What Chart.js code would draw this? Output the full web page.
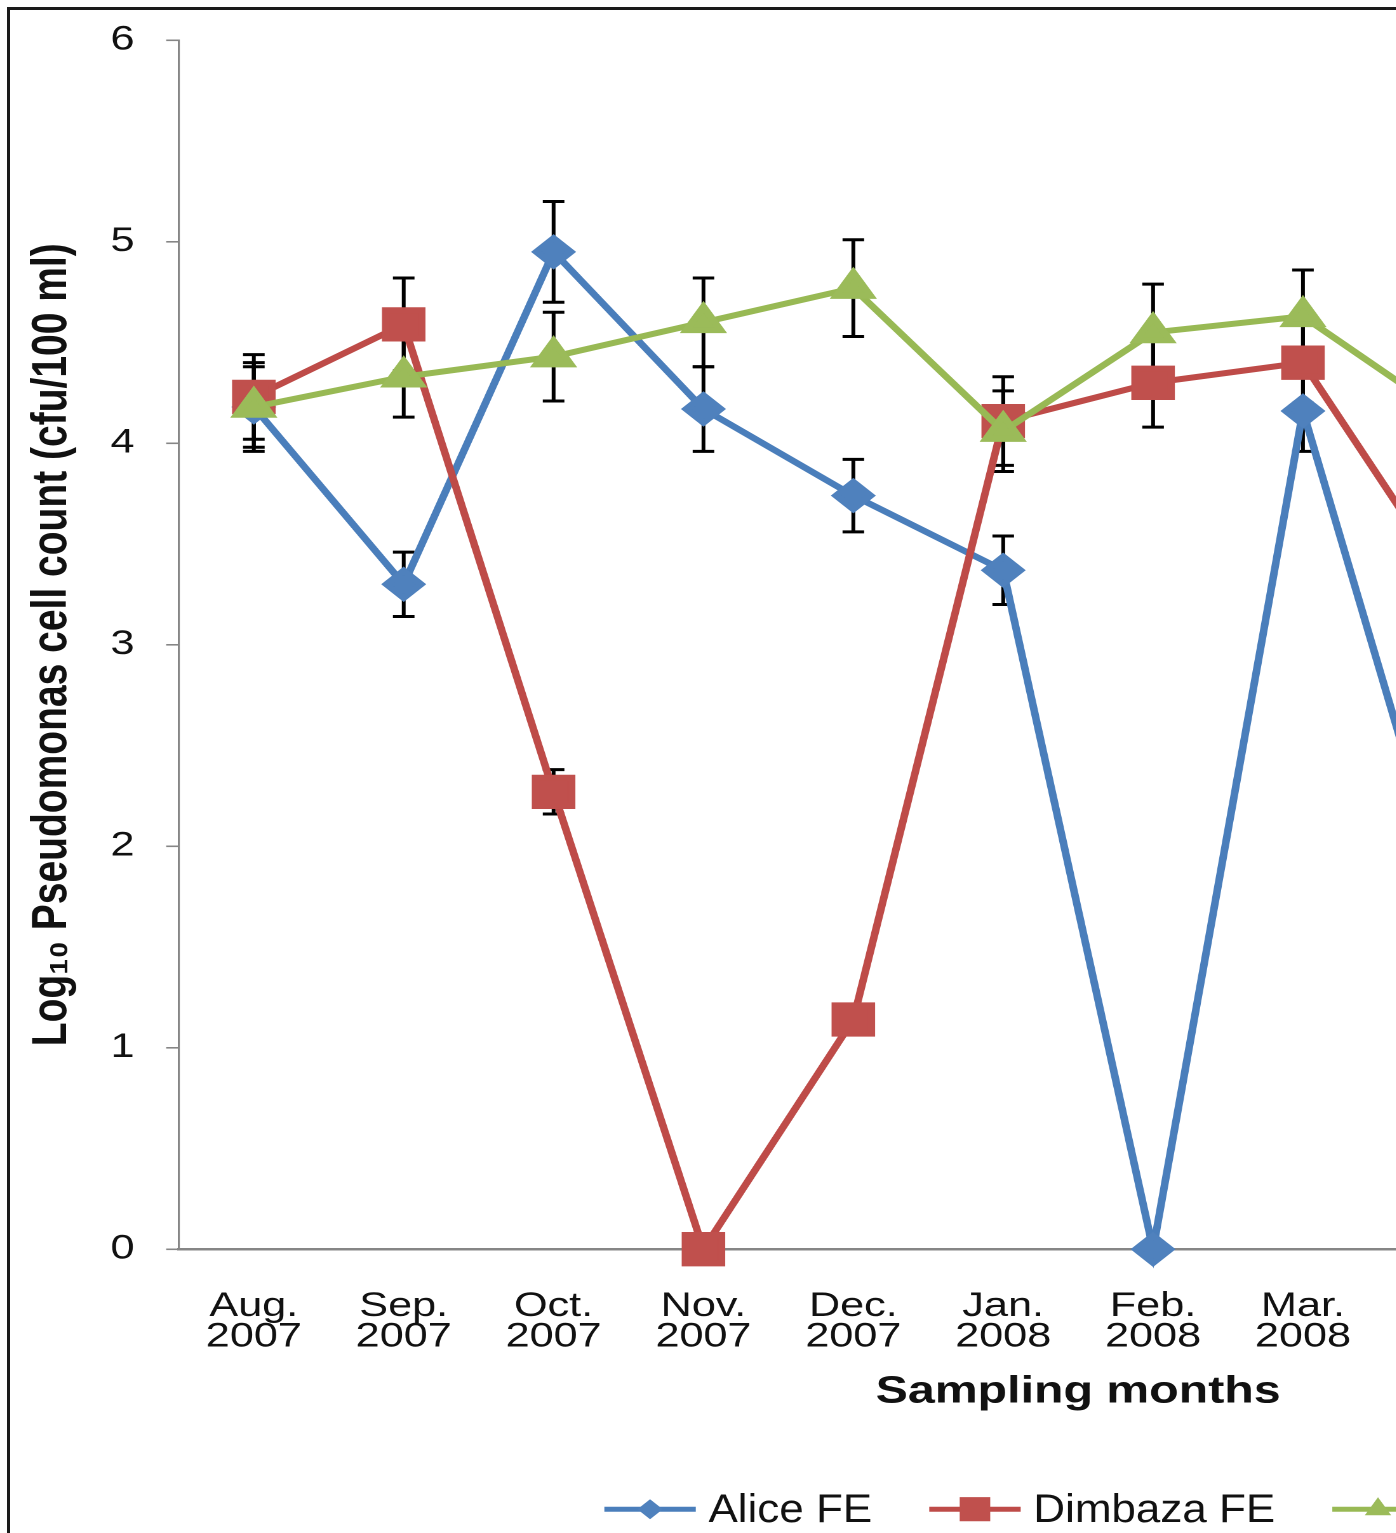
<!DOCTYPE html>
<html>
<head>
<meta charset="utf-8">
<script src="https://cdn.jsdelivr.net/npm/chart.js@4/dist/chart.umd.min.js"></script>
<style>
  html, body { margin: 0; padding: 0; background: #fff; overflow: hidden; width: 1396px; height: 1533px; }
  #wrap { position: absolute; left: 0; top: 0; transform: scaleX(1.27); transform-origin: 0 0; }
  #frame { position: absolute; left: 7px; top: 7px; width: 1600px; height: 1700px; border: 3px solid #1a1a1a; box-sizing: border-box; pointer-events: none; }
</style>
</head>
<body>
<div id="wrap"><canvas id="pseudoChart" width="1590" height="1545"></canvas></div>
<div id="frame"></div>
<script>
// Sampling months (Aug 2007 - Jul 2008)
const months = [
  ["Aug.", "2007"], ["Sep.", "2007"], ["Oct.", "2007"], ["Nov.", "2007"],
  ["Dec.", "2007"], ["Jan.", "2008"], ["Feb.", "2008"], ["Mar.", "2008"],
  ["Apr.", "2008"], ["May", "2008"], ["Jun.", "2008"], ["Jul.", "2008"]
];

// Log10 counts and error bar sizes
const aliceFE = [4.18, 3.30, 4.95, 4.17, 3.74, 3.37, 0, 4.16, 1.65, 3.20, 3.90, 3.60];
const aliceErr = [0.22, 0.16, 0.25, 0.21, 0.18, 0.17, 0, 0.20, 0.18, 0.20, 0.20, 0.20];

const dimbazaFE = [4.23, 4.59, 2.27, 0, 1.14, 4.11, 4.30, 4.40, 3.28, 3.90, 4.20, 4.00];
const dimbazaErr = [0.21, 0.23, 0.11, 0, 0, 0.22, 0.22, 0.20, 0.20, 0.20, 0.20, 0.20];

const eastLondonFE = [4.18, 4.33, 4.43, 4.60, 4.77, 4.06, 4.55, 4.63, 4.12, 4.40, 4.50, 4.30];
const eastLondonErr = [0.20, 0.20, 0.22, 0.22, 0.24, 0.20, 0.24, 0.23, 0.20, 0.20, 0.20, 0.20];

const yTicks = [0, 1, 2, 3, 4, 5, 6];

Chart.defaults.font.family = "'Liberation Sans', Arial, sans-serif";
Chart.defaults.color = "#111";

// error bars, drawn under the lines and markers
const errorBars = {
    id: "errorBars",
    beforeDatasetsDraw(chart) {
        const ctx = chart.ctx;
        const yScale = chart.scales.y;
        ctx.save();
        ctx.strokeStyle = "#000";
        ctx.lineWidth = 3;
        chart.data.datasets.forEach((ds, i) => {
            const meta = chart.getDatasetMeta(i);
            meta.data.forEach((pt, j) => {
                const e = ds.errors[j];
                if (!e) return;
                const top = yScale.getPixelForValue(ds.data[j] + e);
                const bot = yScale.getPixelForValue(ds.data[j] - e);
                ctx.beginPath();
                ctx.moveTo(pt.x, top); ctx.lineTo(pt.x, bot);
                ctx.moveTo(pt.x - 8.5, top); ctx.lineTo(pt.x + 8.5, top);
                ctx.moveTo(pt.x - 8.5, bot); ctx.lineTo(pt.x + 8.5, bot);
                ctx.stroke();
            });
        });
        ctx.restore();
    }
};

// legend with line + marker swatches (text a bit condensed)
const lineLegend = {
    id: "lineLegend",
    afterDraw(chart) {
        const ctx = chart.ctx;
        const y = chart.chartArea.bottom + 260;
        const squeeze = 0.865;
        let x = chart.chartArea.left + 335;
        ctx.save();
        ctx.font = "40px 'Liberation Sans', Arial, sans-serif";
        ctx.textBaseline = "middle";
        chart.data.datasets.forEach(ds => {
            ctx.strokeStyle = ds.borderColor;
            ctx.lineWidth = 5;
            ctx.beginPath();
            ctx.moveTo(x, y); ctx.lineTo(x + 72, y);
            ctx.stroke();
            ctx.fillStyle = ds.pointBackgroundColor;
            Chart.helpers.drawPoint(ctx, {pointStyle: ds.pointStyle, radius: ds.legendRadius, borderWidth: 0, rotation: 0}, x + 36, y);
            ctx.fillStyle = "#111";
            ctx.save();
            ctx.translate(x + 82, y + 2);
            ctx.scale(squeeze, 1);
            ctx.fillText(ds.label, 0, 0);
            ctx.restore();
            x += 82 + ctx.measureText(ds.label).width * squeeze + 45;
        });
        ctx.restore();
    }
};

new Chart(document.getElementById("pseudoChart"), {
    type: "line",
    data: {
        labels: months,
        datasets: [
            {
                label: "Alice FE",
                data: aliceFE,
                errors: aliceErr,
                borderColor: "#4A7EBB",
                backgroundColor: "#4F81BD",
                pointBackgroundColor: "#4F81BD",
                pointBorderColor: "#4F81BD",
                pointStyle: "rectRot",
                pointRadius: 13.5,
                legendRadius: 10,
                borderWidth: 6,
                clip: false,
                order: 3
            },
            {
                label: "Dimbaza FE",
                data: dimbazaFE,
                errors: dimbazaErr,
                borderColor: "#BE4B48",
                backgroundColor: "#C0504D",
                pointBackgroundColor: "#C0504D",
                pointBorderColor: "#C0504D",
                pointStyle: "rect",
                pointRadius: 20,
                legendRadius: 17,
                borderWidth: 6,
                clip: false,
                order: 2
            },
            {
                label: "East London FE",
                data: eastLondonFE,
                errors: eastLondonErr,
                borderColor: "#98B954",
                backgroundColor: "#9BBB59",
                pointBackgroundColor: "#9BBB59",
                pointBorderColor: "#9BBB59",
                pointStyle: "triangle",
                pointRadius: 15.5,
                legendRadius: 12,
                borderWidth: 6,
                clip: false,
                order: 1
            }
        ]
    },
    options: {
        responsive: false,
        animation: false,
        devicePixelRatio: 2,
        layout: { padding: { left: 21, top: 40, right: 33, bottom: 130 } },
        plugins: {
            legend: { display: false },
            tooltip: { enabled: false }
        },
        scales: {
            x: {
                offset: true,
                grid: { display: false, drawTicks: true, tickLength: 42 },
                border: { display: true, color: "#868686", width: 2.5 },
                ticks: {
                    padding: 0,
                    maxRotation: 0,
                    autoSkip: false,
                    color: "#111",
                    font: { size: 34, lineHeight: 0.9 }
                },
                title: {
                    display: true,
                    text: "Sampling months",
                    color: "#111",
                    font: { size: 38, weight: "bold" },
                    padding: { top: 17, bottom: 0 }
                }
            },
            y: {
                min: 0,
                max: 6,
                afterBuildTicks(scale) {
                    scale.ticks = yTicks.map(v => ({ value: v }));
                },
                grid: { drawOnChartArea: false, drawTicks: true, tickLength: 10, color: "#868686", lineWidth: 1.6 },
                border: { display: true, color: "#868686", width: 1.6 },
                ticks: {
                    padding: 25,
                    color: "#111",
                    font: { size: 34, lineHeight: 0.9 }
                },
                title: {
                    display: true,
                    text: "Log₁₀ Pseudomonas cell count (cfu/100 ml)",
                    color: "#111",
                    font: { size: 39, weight: "bold", lineHeight: 1.05 },
                    padding: { top: 0, bottom: 0 }
                }
            }
        }
    },
    plugins: [errorBars, lineLegend]
});
</script>
</body>
</html>
